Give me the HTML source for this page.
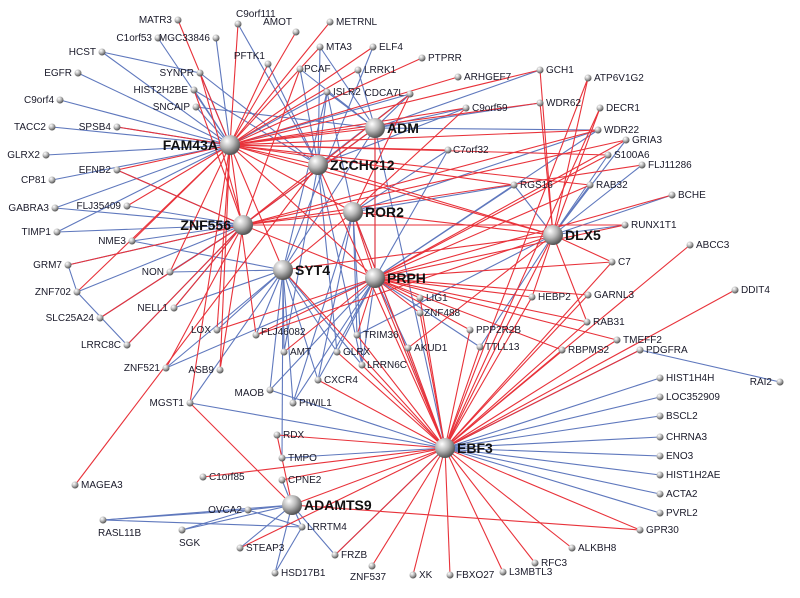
<!DOCTYPE html>
<html><head><meta charset="utf-8"><style>
html,body{margin:0;padding:0;background:#fff;}
svg{display:block;}
text{font-family:"Liberation Sans",sans-serif;font-size:10px;fill:#1a1a2a;}
.h text{font-size:14px;font-weight:bold;fill:#111;}
</style></head><body>
<svg id="s" width="800" height="598" viewBox="0 0 800 598" xmlns="http://www.w3.org/2000/svg">
<defs>
<radialGradient id="g1" cx="35%" cy="30%" r="70%"><stop offset="0" stop-color="#fff"/><stop offset="0.5" stop-color="#b8b8b8"/><stop offset="1" stop-color="#555"/></radialGradient>
</defs>
<g id="E"></g>
<g id="N">
<g class="h" transform="translate(230,145)"><circle r="10" fill="url(#g1)"/><text x="-12" y="5" text-anchor="end">FAM43A</text></g>
<g class="h" transform="translate(375,128)"><circle r="10" fill="url(#g1)"/><text x="12" y="5">ADM</text></g>
<g class="h" transform="translate(318,165)"><circle r="10" fill="url(#g1)"/><text x="12" y="5">ZCCHC12</text></g>
<g class="h" transform="translate(353,212)"><circle r="10" fill="url(#g1)"/><text x="12" y="5">ROR2</text></g>
<g class="h" transform="translate(243,225)"><circle r="10" fill="url(#g1)"/><text x="-12" y="5" text-anchor="end">ZNF556</text></g>
<g class="h" transform="translate(553,235)"><circle r="10" fill="url(#g1)"/><text x="12" y="5">DLX5</text></g>
<g class="h" transform="translate(283,270)"><circle r="10" fill="url(#g1)"/><text x="12" y="5">SYT4</text></g>
<g class="h" transform="translate(375,278)"><circle r="10" fill="url(#g1)"/><text x="12" y="5">PRPH</text></g>
<g class="h" transform="translate(445,448)"><circle r="10" fill="url(#g1)"/><text x="12" y="5">EBF3</text></g>
<g class="h" transform="translate(292,505)"><circle r="10" fill="url(#g1)"/><text x="12" y="5">ADAMTS9</text></g>

<g transform="translate(178,20)"><circle r="3.5" fill="url(#g1)"/><text x="-6" y="3" text-anchor="end">MATR3</text></g>
<g transform="translate(158,38)"><circle r="3.5" fill="url(#g1)"/><text x="-6" y="3" text-anchor="end">C1orf53</text></g>
<g transform="translate(216,38)"><circle r="3.5" fill="url(#g1)"/><text x="-6" y="3" text-anchor="end">MGC33846</text></g>
<g transform="translate(238,24)"><circle r="3.5" fill="url(#g1)"/><text x="-2" y="-7">C9orf111</text></g>
<g transform="translate(102,52)"><circle r="3.5" fill="url(#g1)"/><text x="-6" y="3" text-anchor="end">HCST</text></g>
<g transform="translate(296,32)"><circle r="3.5" fill="url(#g1)"/><text x="-4" y="-7" text-anchor="end">AMOT</text></g>
<g transform="translate(330,22)"><circle r="3.5" fill="url(#g1)"/><text x="6" y="3">METRNL</text></g>
<g transform="translate(268,64)"><circle r="3.5" fill="url(#g1)"/><text x="-3" y="-5" text-anchor="end">PFTK1</text></g>
<g transform="translate(320,47)"><circle r="3.5" fill="url(#g1)"/><text x="6" y="3">MTA3</text></g>
<g transform="translate(373,47)"><circle r="3.5" fill="url(#g1)"/><text x="6" y="3">ELF4</text></g>
<g transform="translate(78,73)"><circle r="3.5" fill="url(#g1)"/><text x="-6" y="3" text-anchor="end">EGFR</text></g>
<g transform="translate(200,73)"><circle r="3.5" fill="url(#g1)"/><text x="-6" y="3" text-anchor="end">SYNPR</text></g>
<g transform="translate(194,90)"><circle r="3.5" fill="url(#g1)"/><text x="-6" y="3" text-anchor="end">HIST2H2BE</text></g>
<g transform="translate(300,69)"><circle r="3.5" fill="url(#g1)"/><text x="4" y="3">PCAF</text></g>
<g transform="translate(358,70)"><circle r="3.5" fill="url(#g1)"/><text x="6" y="3">LRRK1</text></g>
<g transform="translate(422,58)"><circle r="3.5" fill="url(#g1)"/><text x="6" y="3">PTPRR</text></g>
<g transform="translate(60,100)"><circle r="3.5" fill="url(#g1)"/><text x="-6" y="3" text-anchor="end">C9orf4</text></g>
<g transform="translate(196,107)"><circle r="3.5" fill="url(#g1)"/><text x="-6" y="3" text-anchor="end">SNCAIP</text></g>
<g transform="translate(327,92)"><circle r="3.5" fill="url(#g1)"/><text x="6" y="3">ISLR2</text></g>
<g transform="translate(410,94)"><circle r="3.5" fill="url(#g1)"/><text x="-6" y="2" text-anchor="end">CDCA7L</text></g>
<g transform="translate(458,77)"><circle r="3.5" fill="url(#g1)"/><text x="6" y="3">ARHGEF7</text></g>
<g transform="translate(540,70)"><circle r="3.5" fill="url(#g1)"/><text x="6" y="3">GCH1</text></g>
<g transform="translate(588,78)"><circle r="3.5" fill="url(#g1)"/><text x="6" y="3">ATP6V1G2</text></g>
<g transform="translate(52,127)"><circle r="3.5" fill="url(#g1)"/><text x="-6" y="3" text-anchor="end">TACC2</text></g>
<g transform="translate(117,127)"><circle r="3.5" fill="url(#g1)"/><text x="-6" y="3" text-anchor="end">SPSB4</text></g>
<g transform="translate(466,108)"><circle r="3.5" fill="url(#g1)"/><text x="6" y="3">C9orf59</text></g>
<g transform="translate(540,103)"><circle r="3.5" fill="url(#g1)"/><text x="6" y="3">WDR62</text></g>
<g transform="translate(600,108)"><circle r="3.5" fill="url(#g1)"/><text x="6" y="3">DECR1</text></g>
<g transform="translate(46,155)"><circle r="3.5" fill="url(#g1)"/><text x="-6" y="3" text-anchor="end">GLRX2</text></g>
<g transform="translate(117,170)"><circle r="3.5" fill="url(#g1)"/><text x="-6" y="3" text-anchor="end">EFNB2</text></g>
<g transform="translate(448,150)"><circle r="3.5" fill="url(#g1)"/><text x="5" y="3">C7orf32</text></g>
<g transform="translate(598,130)"><circle r="3.5" fill="url(#g1)"/><text x="6" y="3">WDR22</text></g>
<g transform="translate(626,140)"><circle r="3.5" fill="url(#g1)"/><text x="6" y="3">GRIA3</text></g>
<g transform="translate(52,180)"><circle r="3.5" fill="url(#g1)"/><text x="-6" y="3" text-anchor="end">CP81</text></g>
<g transform="translate(127,206)"><circle r="3.5" fill="url(#g1)"/><text x="-6" y="3" text-anchor="end">FLJ35409</text></g>
<g transform="translate(608,155)"><circle r="3.5" fill="url(#g1)"/><text x="6" y="3">S100A6</text></g>
<g transform="translate(642,165)"><circle r="3.5" fill="url(#g1)"/><text x="6" y="3">FLJ11286</text></g>
<g transform="translate(55,208)"><circle r="3.5" fill="url(#g1)"/><text x="-6" y="3" text-anchor="end">GABRA3</text></g>
<g transform="translate(514,185)"><circle r="3.5" fill="url(#g1)"/><text x="6" y="3">RGS16</text></g>
<g transform="translate(590,185)"><circle r="3.5" fill="url(#g1)"/><text x="6" y="3">RAB32</text></g>
<g transform="translate(672,195)"><circle r="3.5" fill="url(#g1)"/><text x="6" y="3">BCHE</text></g>
<g transform="translate(57,232)"><circle r="3.5" fill="url(#g1)"/><text x="-6" y="3" text-anchor="end">TIMP1</text></g>
<g transform="translate(132,241)"><circle r="3.5" fill="url(#g1)"/><text x="-6" y="3" text-anchor="end">NME3</text></g>
<g transform="translate(625,225)"><circle r="3.5" fill="url(#g1)"/><text x="6" y="3">RUNX1T1</text></g>
<g transform="translate(690,245)"><circle r="3.5" fill="url(#g1)"/><text x="6" y="3">ABCC3</text></g>
<g transform="translate(68,265)"><circle r="3.5" fill="url(#g1)"/><text x="-6" y="3" text-anchor="end">GRM7</text></g>
<g transform="translate(170,272)"><circle r="3.5" fill="url(#g1)"/><text x="-6" y="3" text-anchor="end">NON</text></g>
<g transform="translate(612,262)"><circle r="3.5" fill="url(#g1)"/><text x="6" y="3">C7</text></g>
<g transform="translate(735,290)"><circle r="3.5" fill="url(#g1)"/><text x="6" y="3">DDIT4</text></g>
<g transform="translate(77,292)"><circle r="3.5" fill="url(#g1)"/><text x="-6" y="3" text-anchor="end">ZNF702</text></g>
<g transform="translate(174,308)"><circle r="3.5" fill="url(#g1)"/><text x="-6" y="3" text-anchor="end">NELL1</text></g>
<g transform="translate(420,298)"><circle r="3.5" fill="url(#g1)"/><text x="6" y="3">LIG1</text></g>
<g transform="translate(532,297)"><circle r="3.5" fill="url(#g1)"/><text x="6" y="3">HEBP2</text></g>
<g transform="translate(588,295)"><circle r="3.5" fill="url(#g1)"/><text x="6" y="3">GARNL3</text></g>
<g transform="translate(100,318)"><circle r="3.5" fill="url(#g1)"/><text x="-6" y="3" text-anchor="end">SLC25A24</text></g>
<g transform="translate(420,313)"><circle r="3.5" fill="url(#g1)"/><text x="4" y="3">ZNF488</text></g>
<g transform="translate(256,335)"><circle r="3.5" fill="url(#g1)"/><text x="5" y="0">FLJ46082</text></g>
<g transform="translate(217,330)"><circle r="3.5" fill="url(#g1)"/><text x="-6" y="3" text-anchor="end">LOX</text></g>
<g transform="translate(470,330)"><circle r="3.5" fill="url(#g1)"/><text x="6" y="3">PPP2R2B</text></g>
<g transform="translate(587,322)"><circle r="3.5" fill="url(#g1)"/><text x="6" y="3">RAB31</text></g>
<g transform="translate(127,345)"><circle r="3.5" fill="url(#g1)"/><text x="-6" y="3" text-anchor="end">LRRC8C</text></g>
<g transform="translate(357,335)"><circle r="3.5" fill="url(#g1)"/><text x="6" y="3">TRIM36</text></g>
<g transform="translate(617,340)"><circle r="3.5" fill="url(#g1)"/><text x="6" y="3">TMEFF2</text></g>
<g transform="translate(480,347)"><circle r="3.5" fill="url(#g1)"/><text x="5" y="3">TTLL13</text></g>
<g transform="translate(562,350)"><circle r="3.5" fill="url(#g1)"/><text x="6" y="3">RBPMS2</text></g>
<g transform="translate(640,350)"><circle r="3.5" fill="url(#g1)"/><text x="6" y="3">PDGFRA</text></g>
<g transform="translate(166,368)"><circle r="3.5" fill="url(#g1)"/><text x="-6" y="3" text-anchor="end">ZNF521</text></g>
<g transform="translate(220,370)"><circle r="3.5" fill="url(#g1)"/><text x="-6" y="3" text-anchor="end">ASB9</text></g>
<g transform="translate(284,352)"><circle r="3.5" fill="url(#g1)"/><text x="6" y="3">AMT</text></g>
<g transform="translate(337,352)"><circle r="3.5" fill="url(#g1)"/><text x="6" y="3">GLRX</text></g>
<g transform="translate(408,348)"><circle r="3.5" fill="url(#g1)"/><text x="6" y="3">AKUD1</text></g>
<g transform="translate(362,365)"><circle r="3.5" fill="url(#g1)"/><text x="5" y="3">LRRN6C</text></g>
<g transform="translate(318,380)"><circle r="3.5" fill="url(#g1)"/><text x="6" y="3">CXCR4</text></g>
<g transform="translate(270,390)"><circle r="3.5" fill="url(#g1)"/><text x="-6" y="6" text-anchor="end">MAOB</text></g>
<g transform="translate(660,378)"><circle r="3.5" fill="url(#g1)"/><text x="6" y="3">HIST1H4H</text></g>
<g transform="translate(780,382)"><circle r="3.5" fill="url(#g1)"/><text x="-8" y="3" text-anchor="end">RAI2</text></g>
<g transform="translate(293,403)"><circle r="3.5" fill="url(#g1)"/><text x="6" y="3">PIWIL1</text></g>
<g transform="translate(190,403)"><circle r="3.5" fill="url(#g1)"/><text x="-6" y="3" text-anchor="end">MGST1</text></g>
<g transform="translate(660,397)"><circle r="3.5" fill="url(#g1)"/><text x="6" y="3">LOC352909</text></g>
<g transform="translate(277,435)"><circle r="3.5" fill="url(#g1)"/><text x="6" y="3">RDX</text></g>
<g transform="translate(660,416)"><circle r="3.5" fill="url(#g1)"/><text x="6" y="3">BSCL2</text></g>
<g transform="translate(282,458)"><circle r="3.5" fill="url(#g1)"/><text x="6" y="3">TMPO</text></g>
<g transform="translate(660,437)"><circle r="3.5" fill="url(#g1)"/><text x="6" y="3">CHRNA3</text></g>
<g transform="translate(203,477)"><circle r="3.5" fill="url(#g1)"/><text x="6" y="3">C1orf85</text></g>
<g transform="translate(660,456)"><circle r="3.5" fill="url(#g1)"/><text x="6" y="3">ENO3</text></g>
<g transform="translate(75,485)"><circle r="3.5" fill="url(#g1)"/><text x="6" y="3">MAGEA3</text></g>
<g transform="translate(282,480)"><circle r="3.5" fill="url(#g1)"/><text x="6" y="3">CPNE2</text></g>
<g transform="translate(660,475)"><circle r="3.5" fill="url(#g1)"/><text x="6" y="3">HIST1H2AE</text></g>
<g transform="translate(660,494)"><circle r="3.5" fill="url(#g1)"/><text x="6" y="3">ACTA2</text></g>
<g transform="translate(248,510)"><circle r="3.5" fill="url(#g1)"/><text x="-6" y="3" text-anchor="end">OVCA2</text></g>
<g transform="translate(103,520)"><circle r="3.5" fill="url(#g1)"/><text x="-5" y="16">RASL11B</text></g>
<g transform="translate(660,513)"><circle r="3.5" fill="url(#g1)"/><text x="6" y="3">PVRL2</text></g>
<g transform="translate(302,527)"><circle r="3.5" fill="url(#g1)"/><text x="5" y="3">LRRTM4</text></g>
<g transform="translate(182,530)"><circle r="3.5" fill="url(#g1)"/><text x="-3" y="16">SGK</text></g>
<g transform="translate(640,530)"><circle r="3.5" fill="url(#g1)"/><text x="6" y="3">GPR30</text></g>
<g transform="translate(240,548)"><circle r="3.5" fill="url(#g1)"/><text x="6" y="3">STEAP3</text></g>
<g transform="translate(335,555)"><circle r="3.5" fill="url(#g1)"/><text x="6" y="3">FRZB</text></g>
<g transform="translate(572,548)"><circle r="3.5" fill="url(#g1)"/><text x="6" y="3">ALKBH8</text></g>
<g transform="translate(535,563)"><circle r="3.5" fill="url(#g1)"/><text x="6" y="3">RFC3</text></g>
<g transform="translate(275,573)"><circle r="3.5" fill="url(#g1)"/><text x="6" y="3">HSD17B1</text></g>
<g transform="translate(372,566)"><circle r="3.5" fill="url(#g1)"/><text x="-22" y="14">ZNF537</text></g>
<g transform="translate(413,575)"><circle r="3.5" fill="url(#g1)"/><text x="6" y="3">XK</text></g>
<g transform="translate(450,575)"><circle r="3.5" fill="url(#g1)"/><text x="6" y="3">FBXO27</text></g>
<g transform="translate(503,572)"><circle r="3.5" fill="url(#g1)"/><text x="6" y="3">L3MBTL3</text></g>
</g>
</svg>
<script>
(function(){
var P={};
document.querySelectorAll('#N > g').forEach(function(g){
  var m=/translate\(([\d.]+),([\d.]+)\)/.exec(g.getAttribute('transform'));
  P[g.querySelector('text').textContent]=[+m[1],+m[2]];
});
var R={
FAM43A:"MATR3 C9orf111 AMOT PFTK1 MTA3 ELF4 LRRK1 PTPRR ARHGEF7 C9orf59 WDR62 WDR22 C7orf32 S100A6 RAB32 DLX5 ZCCHC12 ADM ROR2 NME3 NON LOX ASB9 SPSB4 EFNB2 FLJ35409 ZNF702 SYT4 PRPH FLJ46082 MGST1 RGS16 GCH1 METRNL",
ZNF556:"SYNPR HIST2H2BE PCAF EFNB2 GRM7 ZNF521 ASB9 LRRC8C SLC25A24 NELL1 GRIA3 WDR22 ADM CDCA7L RUNX1T1 FLJ11286",
ZCCHC12:"MAGEA3",
EBF3:"DDIT4 ABCC3 C7 GARNL3 RAB31 TMEFF2 HEBP2 LIG1 ZNF488 PRPH SYT4 ROR2 DLX5 ALKBH8 RFC3 L3MBTL3 FBXO27 XK ZNF537 FRZB GPR30 TTLL13 RBPMS2 AKUD1 TRIM36 ADAMTS9 RDX CPNE2 C1orf85 STEAP3 ZCCHC12 CXCR4 GLRX LRRN6C PPP2R2B PDGFRA DECR1 ATP6V1G2",
PRPH:"LIG1 HEBP2 GARNL3 RAB31 RBPMS2 TMEFF2 PPP2R2B ZNF488 FLJ46082 AMT TRIM36 LOX C7 RAB32 S100A6 BCHE RUNX1T1 GRIA3 ZNF556 ADM ROR2",
DLX5:"DECR1 ATP6V1G2 GCH1 WDR62 ZCCHC12 ROR2 SYT4 C7 RAB31 AKUD1 HEBP2 FLJ46082",
ROR2:"CDCA7L C9orf59 ZNF556 SYT4",
ADAMTS9:"GPR30 RDX MGST1"
};
var B={
FAM43A:"C1orf53 MGC33846 HCST EGFR SYNPR HIST2H2BE C9orf4 SNCAIP TACC2 GLRX2 CP81 GABRA3 TIMP1 SPSB4 ISLR2 CDCA7L",
ADM:"MTA3 ISLR2 LRRK1 CDCA7L C9orf59 WDR62 WDR22 GCH1 SNCAIP PCAF ZNF556 SYT4 PRPH EBF3",
ZCCHC12:"C9orf111 PFTK1 PCAF SYNPR HIST2H2BE C9orf59 CDCA7L GLRX AMT LRRN6C ISLR2 MTA3",
ROR2:"C7orf32 RGS16 WDR22 TRIM36 CXCR4 PIWIL1 EBF3 LRRN6C ISLR2",
SYT4:"NME3 NON NELL1 ZNF521 LOX MAOB CXCR4 AMT GLRX PIWIL1 MGST1 FLJ46082 TMPO LRRN6C ISLR2 ELF4",
ZNF556:"TIMP1 GABRA3 FLJ35409 EFNB2 GRM7 ZNF702 NME3 SLC25A24 NON LRRC8C NELL1",
DLX5:"S100A6 FLJ11286 BCHE RUNX1T1 RAB32 GRIA3 RGS16 TTLL13 TRIM36",
PRPH:"RGS16 C7orf32 WDR22 TTLL13 AKUD1 GLRX CXCR4 LRRN6C PIWIL1 MAOB ZNF521",
EBF3:"HIST1H4H LOC352909 BSCL2 CHRNA3 ENO3 HIST1H2AE ACTA2 PVRL2 PDGFRA MGST1 MAOB FRZB TMPO",
ADAMTS9:"OVCA2 RASL11B SGK STEAP3 LRRTM4 FRZB HSD17B1 CPNE2",
RASL11B:"OVCA2 LRRTM4", OVCA2:"LRRTM4 SGK", HSD17B1:"LRRTM4", PDGFRA:"RAI2", GRM7:"ZNF702", LRRC8C:"ZNF702", HCST:"SYNPR"
};
var E=document.getElementById('E'),ns='http://www.w3.org/2000/svg';
function draw(M,c){for(var a in M){M[a].split(' ').forEach(function(b){
 var p=P[a],q=P[b]; if(!p||!q)return;
 var l=document.createElementNS(ns,'line');
 l.setAttribute('x1',p[0]);l.setAttribute('y1',p[1]);l.setAttribute('x2',q[0]);l.setAttribute('y2',q[1]);
 l.setAttribute('stroke',c);l.setAttribute('stroke-width','1.1');E.appendChild(l);});}}
draw(B,'#5f78bd');draw(R,'#e8323a');
})();
</script>
</body></html>
